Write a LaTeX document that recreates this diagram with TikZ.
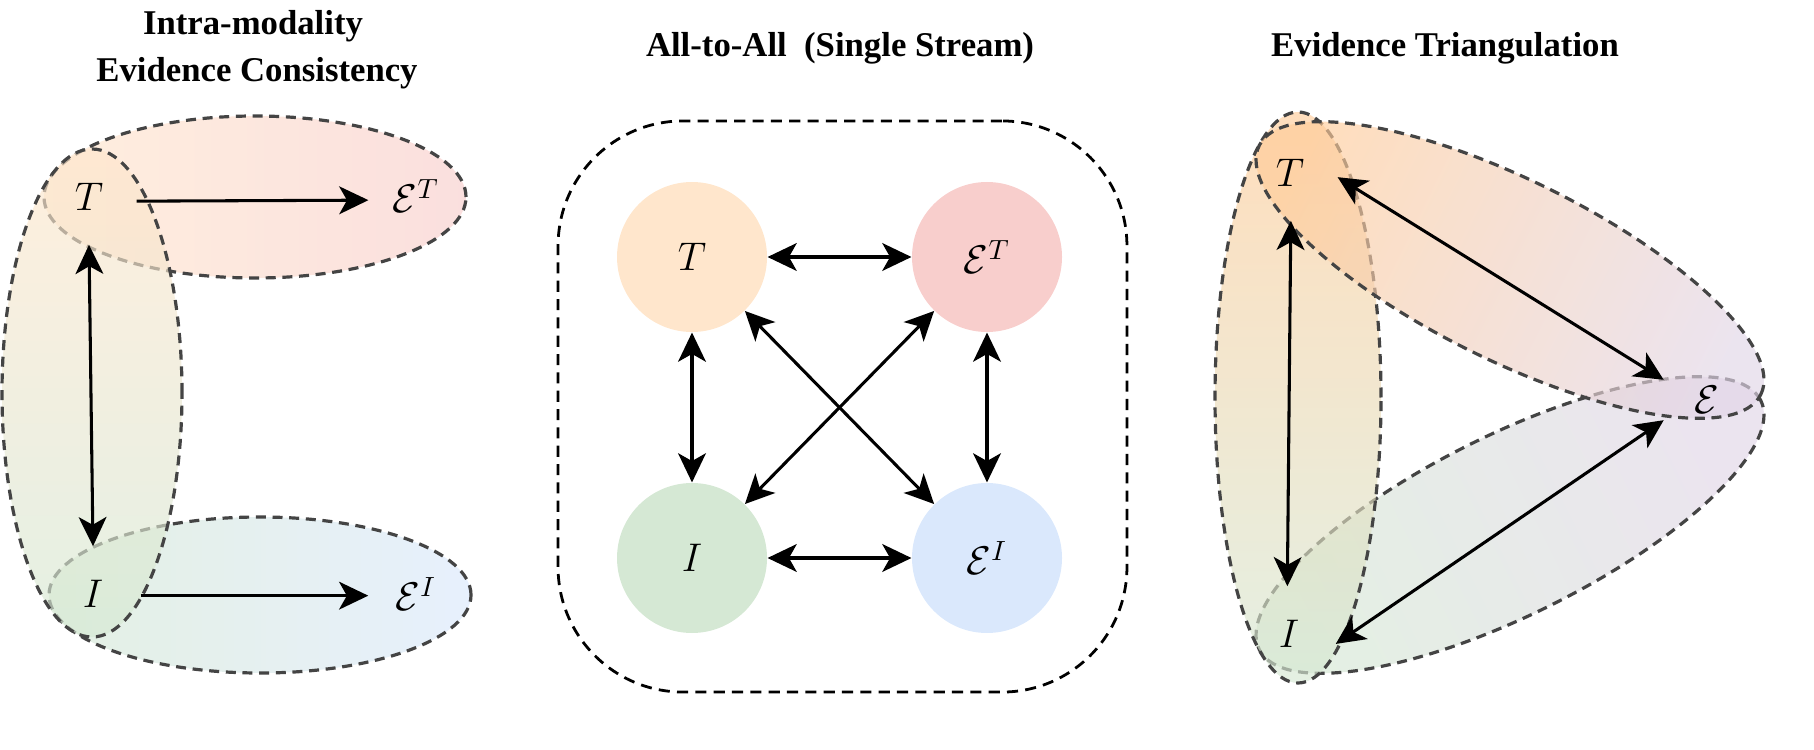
\documentclass[tikz,border=0pt]{standalone}
\usepackage{fontspec}
\newfontfamily\titlefont{Liberation Serif}
\usetikzlibrary{arrows.meta}
\definecolor{cOr}{HTML}{FFE6CC}
\definecolor{cRd}{HTML}{F8CECC}
\definecolor{cGr}{HTML}{D5E8D4}
\definecolor{cBl}{HTML}{DAE8FC}
\definecolor{cOrD}{HTML}{FFCC99}
\definecolor{cPu}{HTML}{E1D5E7}
\definecolor{bord}{HTML}{444444}
\begin{document}
\begin{tikzpicture}[x=0.36pt,y=0.36pt,
  grp/.style={draw=bord, line width=1.15pt, dash pattern=on 3.6pt off 2.4pt, fill opacity=0.65},
  arr/.style={line width=1.1pt, {Stealth[length=10.5pt,width=10pt,inset=2.8pt]}-{Stealth[length=10.5pt,width=10pt,inset=2.8pt]}},
  arrone/.style={line width=1.1pt, -{Stealth[length=10.5pt,width=10pt,inset=2.8pt]}},
  lbl/.style={circle, inner sep=0pt, minimum size=34pt, font=\fontsize{14.4}{17}\selectfont},
  circ/.style={circle, inner sep=0pt, minimum size=54pt, font=\fontsize{14.4}{17}\selectfont},
  ttl/.style={inner sep=0pt, anchor=base, font=\titlefont\bfseries\fontsize{12.5}{15}\selectfont},
  boxstyle/.style={draw=black, line width=1pt, dash pattern=on 4pt off 2.6pt, rounded corners=45pt}
]
\useasboundingbox (0,0) rectangle (1814,-750);

% titles
\node[ttl] (t1a) at (253,-35) {Intra-modality};
\node[ttl] (t1b) at (257,-82) {Evidence Consistency};
\node[ttl] (t2) at (840,-57) {All-to-All\ \ (Single Stream)};
\node[ttl] (t3) at (1445,-57) {Evidence Triangulation};

% ---------- left panel ----------
\path[grp, left color=cOr, right color=cRd] (255,-197) ellipse [x radius=211, y radius=81];
\path[grp, left color=cGr, right color=cBl] (260,-595) ellipse [x radius=211, y radius=78];
\path[grp, top color=cOr, bottom color=cGr] (92,-393) ellipse [x radius=90, y radius=244];

\node[lbl] (LT) at (89,-197) {$T$};
\node[lbl] (LET) at (416,-196) {$\mathcal{E}^T$};
\node[lbl] (LI) at (93,-594) {$I$};
\node[lbl] (LEI) at (416,-594) {$\mathcal{E}^I$};
\draw[arrone] (LT.-5) -- (LET.185);
\draw[arrone] (LI.-2) -- (LEI.182);
\draw[arr] (LT.south) -- (LI.north);

% ---------- middle panel ----------
\node[boxstyle, minimum width=204.8pt, minimum height=205.6pt] (box) at (842.5,-406.5) {};
\node[circ, fill=cOr] (MT) at (692,-257) {$T$};
\node[circ, fill=cRd] (MET) at (987,-257) {$\mathcal{E}^T$};
\node[circ, fill=cGr] (MI) at (692,-558) {$I$};
\node[circ, fill=cBl] (MEI) at (987,-558) {$\mathcal{E}^I$};
\draw[arr] (MT) -- (MET);
\draw[arr] (MI) -- (MEI);
\draw[arr] (MT) -- (MI);
\draw[arr] (MET) -- (MEI);
\draw[arr] (MT) -- (MEI);
\draw[arr] (MET) -- (MI);

% ---------- right panel ----------
\path[grp, top color=cGr, bottom color=cPu, shading angle=116.4, rotate around={26.4:(1510,-525)}] (1510,-525) ellipse [x radius=280, y radius=90];
\path[grp, top color=cOrD, bottom color=cGr] (1298,-397.5) ellipse [x radius=83, y radius=285.5];
\path[grp, top color=cOrD, bottom color=cPu, shading angle=63.6, rotate around={-26.4:(1510,-270)}] (1510,-270) ellipse [x radius=280, y radius=90];

\node[lbl] (RT) at (1290,-173) {$T$};
\node[lbl] (RE) at (1707,-400) {$\mathcal{E}$};
\node[lbl] (RI) at (1289,-634) {$I$};
\draw[arr] (RT.-5) -- (RE.155);
\draw[arr] (RI.-12) -- (RE.205);
\draw[arr] (RT.-89) -- (RI.92);
\end{tikzpicture}
\end{document}
